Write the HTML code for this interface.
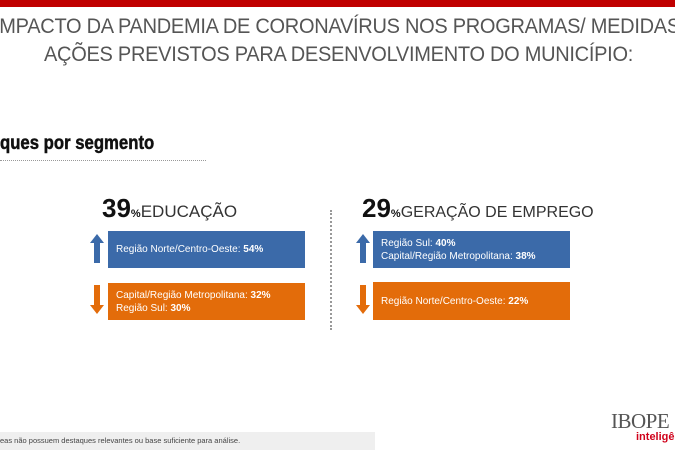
<!DOCTYPE html>
<html><head><meta charset="utf-8"><style>
body{margin:0;width:675px;height:450px;overflow:hidden;background:#fff;position:relative;font-family:"Liberation Sans",sans-serif}
.a{position:absolute}
.t{color:#555;font-size:21.5px;white-space:nowrap;letter-spacing:-0.3px;transform:scaleX(0.93);transform-origin:left}
.box{position:absolute;color:#fff;font-size:10px;line-height:13px;display:flex;flex-direction:column;justify-content:center;padding-left:8px;box-sizing:border-box;white-space:nowrap}
.blue{background:#3b6aa9}.orange{background:#e36c0a}
.h{font-size:26px;font-weight:bold;color:#111;white-space:nowrap}
.h small{font-size:11px;font-weight:bold}
.h span{font-size:17px;font-weight:normal;color:#333}
</style></head><body>
<div class="a" style="left:0;top:0;width:675px;height:7px;background:#c00000"></div>
<div class="a t" style="left:-6px;top:14px">IMPACTO DA PANDEMIA DE CORONAVÍRUS NOS PROGRAMAS/ MEDIDAS</div>
<div class="a t" style="left:44px;top:42px">AÇÕES PREVISTOS PARA DESENVOLVIMENTO DO MUNICÍPIO:</div>
<div class="a" style="left:0;top:133px;font-size:19px;font-weight:bold;transform:scaleX(0.88);transform-origin:left;color:#111;-webkit-text-stroke:0.5px #111">ques por segmento</div>
<div class="a" style="left:0;top:160px;width:206px;border-top:1px dotted #999"></div>

<div class="a h" style="left:102px;top:193px">39<small>%</small><span>EDUCAÇÃO</span></div>
<div class="a" style="left:90px;top:234px;width:0;height:0;border-left:7px solid transparent;border-right:7px solid transparent;border-bottom:9px solid #3b6aa9"></div>
<div class="a" style="left:94px;top:243px;width:6px;height:20px;background:#3b6aa9"></div>
<div class="box blue" style="left:108px;top:231px;width:197px;height:37px"><div>Região Norte/Centro-Oeste: <b>54%</b></div></div>
<div class="a" style="left:94px;top:285px;width:6px;height:20px;background:#e36c0a"></div>
<div class="a" style="left:90px;top:305px;width:0;height:0;border-left:7px solid transparent;border-right:7px solid transparent;border-top:9px solid #e36c0a"></div>
<div class="box orange" style="left:108px;top:283px;width:197px;height:37px"><div>Capital/Região Metropolitana: <b>32%</b></div><div>Região Sul: <b>30%</b></div></div>

<div class="a" style="left:330px;top:210px;height:120px;border-left:2px dotted #999"></div>

<div class="a h" style="left:362px;top:193px">29<small>%</small><span style="font-size:16px">GERAÇÃO DE EMPREGO</span></div>
<div class="a" style="left:356px;top:234px;width:0;height:0;border-left:7px solid transparent;border-right:7px solid transparent;border-bottom:9px solid #3b6aa9"></div>
<div class="a" style="left:360px;top:243px;width:6px;height:20px;background:#3b6aa9"></div>
<div class="box blue" style="left:373px;top:231px;width:197px;height:37px"><div>Região Sul: <b>40%</b></div><div>Capital/Região Metropolitana: <b>38%</b></div></div>
<div class="a" style="left:360px;top:285px;width:6px;height:20px;background:#e36c0a"></div>
<div class="a" style="left:356px;top:305px;width:0;height:0;border-left:7px solid transparent;border-right:7px solid transparent;border-top:9px solid #e36c0a"></div>
<div class="box orange" style="left:373px;top:282px;width:197px;height:38px"><div>Região Norte/Centro-Oeste: <b>22%</b></div></div>

<div class="a" style="left:0;top:432px;width:375px;height:18px;background:#efefef;font-size:7.5px;color:#444;line-height:18px;white-space:nowrap">eas não possuem destaques relevantes ou base suficiente para análise.</div>
<div class="a" style="left:611px;top:409px;font-family:'Liberation Serif',serif;font-size:21px;color:#555;letter-spacing:-0.5px">IBOPE</div>
<div class="a" style="left:636px;top:431px;font-size:11px;font-weight:bold;color:#d0021b">inteligê</div>
</body></html>
